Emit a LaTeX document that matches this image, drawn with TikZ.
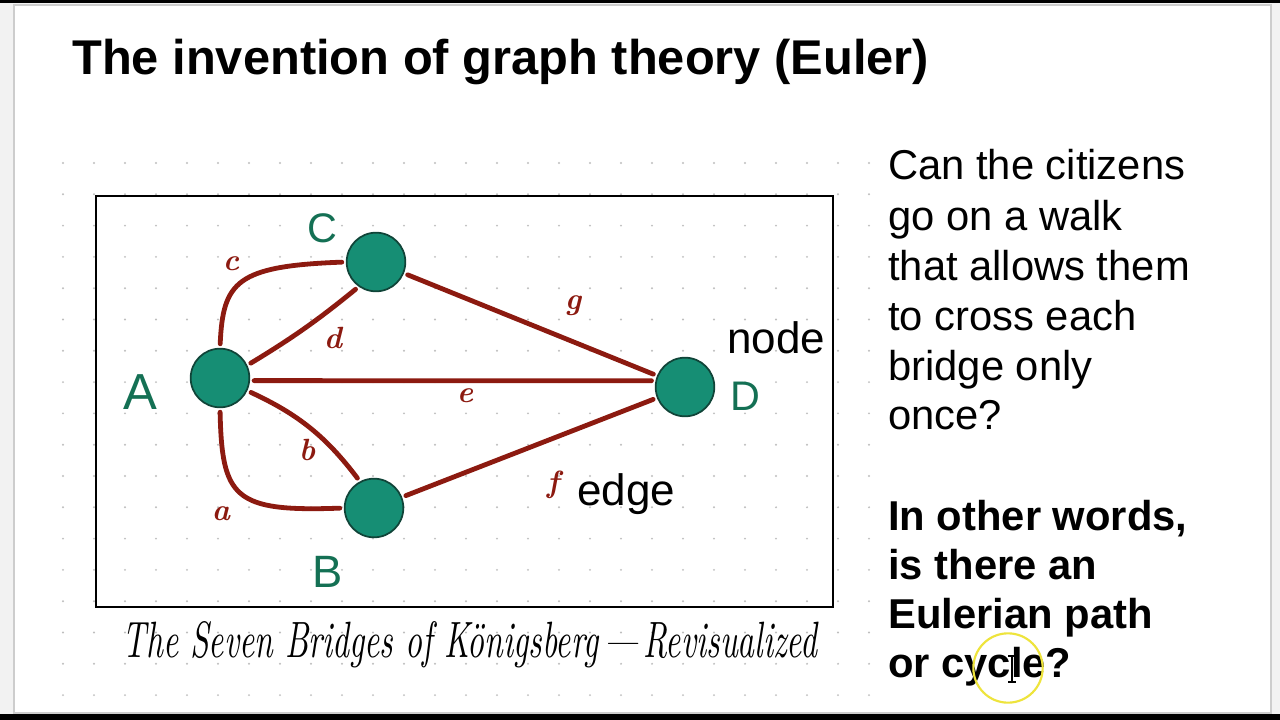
\documentclass[tikz,border=0pt]{standalone}
\usepackage{fontspec}
\newfontfamily\arial{Liberation Sans}
\definecolor{tealfill}{RGB}{22,142,116}
\definecolor{tealdark}{RGB}{16,68,56}
\definecolor{bridge}{RGB}{140,26,16}
\definecolor{labgreen}{RGB}{20,112,84}
\definecolor{dotgray}{RGB}{190,190,190}
\definecolor{pagegray}{RGB}{242,242,242}
\definecolor{bordergray}{RGB}{205,205,205}
\definecolor{ringyellow}{RGB}{238,228,60}
\begin{document}
\begin{tikzpicture}[x=0.75pt,y=-0.75pt,
  vert/.style={circle,fill=tealfill,draw=tealdark,line width=1.3pt,minimum size=44pt,inner sep=0pt},
  bridgeline/.style={draw=bridge,line width=3.6pt,line cap=round,shorten <=3pt,shorten >=3pt},
  vlabel/.style={text=labgreen,font=\arial},
  blabel/.style={text=bridge,font=\bfseries\itshape\fontsize{23pt}{26pt}\selectfont},
  qtext/.style={anchor=base west,inner sep=0pt,font=\arial\fontsize{31.3pt}{36pt}\selectfont},
  qbold/.style={anchor=base west,inner sep=0pt,font=\arial\bfseries\fontsize{31.3pt}{36pt}\selectfont},
  tag/.style={anchor=base west,inner sep=0pt,font=\arial\fontsize{33pt}{36pt}\selectfont}]
% page
\useasboundingbox (0,0) rectangle (1280,720);
\fill[pagegray] (0,0) rectangle (1280,720);
\filldraw[fill=white,draw=bordergray,line width=0.8pt] (14,5) rectangle (1271,713);
\fill[black] (0,0) rectangle (1280,3);
\fill[black] (0,714) rectangle (1280,720);
% dot grid
\foreach \i in {0,...,26}{
  \foreach \j in {0,...,17}{
    \fill[dotgray] ({63+31*\i},{163+31.3*\j}) circle (0.8pt);
  }
}
% title
\node[anchor=base west,inner sep=0pt,font=\arial\bfseries\fontsize{36.6pt}{40pt}\selectfont] (title) at (72,75) {The invention of graph theory (Euler)};
% frame
\node[draw=black,line width=2.2pt,minimum width=552.75pt,minimum height=308.25pt,inner sep=0pt] (frame) at (464.5,401.5) {};
% vertices
\node[vert] (A) at (220,378) {};
\node[vert] (C) at (376,262) {};
\node[vert] (B) at (374,508) {};
\node[vert] (D) at (685,387) {};
% bridges
\draw[bridgeline] (A.north) .. controls (223,282) and (236,266) .. (C.west);
\draw[bridgeline] (A.25) to[bend right=4] (C.235);
\draw[bridgeline] (A.-5) -- (D.168);
\draw[bridgeline] (A.-25) to[bend left=14] (B.118);
\draw[bridgeline] (A.south) .. controls (222,498) and (234,512) .. (B.west);
\draw[bridgeline] (C) -- (D);
\draw[bridgeline] (B) -- (D);
% vertex labels
\node[vlabel,font=\arial\fontsize{38pt}{40pt}\selectfont] (lA) at (140,392) {A};
\node[vlabel,font=\arial\fontsize{31pt}{34pt}\selectfont] (lC) at (322,228) {C};
\node[vlabel,font=\arial\fontsize{34pt}{36pt}\selectfont] (lB) at (328,572) {B};
\node[vlabel,font=\arial\fontsize{31pt}{34pt}\selectfont] (lD) at (745,396) {D};
% bridge labels
\node[blabel] (la) at (221,514) {a};
\node[blabel] (lb) at (307,450) {b};
\node[blabel] (lc) at (231,264) {c};
\node[blabel] (ld) at (333,338) {d};
\node[blabel] (le) at (465,396) {e};
\node[blabel] (lf) at (553,485) {f};
\node[blabel] (lg) at (573,306) {g};
% annotations
\node[tag] (nodetag) at (727,353) {node};
\node[tag] (edgetag) at (577,505) {edge};
% caption
\node[anchor=base,inner sep=0pt] (caption) at (470,657) {\resizebox{521pt}{27pt}{\itshape The Seven Bridges of Königsberg\,---\,Revisualized}};
% question
\node[qtext] (q1) at (888,180) {Can the citizens};
\node[qtext] (q2) at (888,230) {go on a walk};
\node[qtext] (q3) at (888,280) {that allows them};
\node[qtext] (q4) at (888,330) {to cross each};
\node[qtext] (q5) at (888,380) {bridge only};
\node[qtext] (q6) at (888,429) {once?};
\node[qbold] (r1) at (888,530) {In other words,};
\node[qbold] (r2) at (888,579) {is there an};
\node[qbold] (r3) at (888,628) {Eulerian path};
\node[qbold] (r4) at (888,677) {or cycle?};
% cursor highlight
\draw[ringyellow,line width=1.6pt] (1008,668) circle (26pt);
\draw[black,line width=1pt] (1012,656) -- (1012,682) (1008,656) -- (1016,656) (1008,682) -- (1016,682);
\end{tikzpicture}
\end{document}
